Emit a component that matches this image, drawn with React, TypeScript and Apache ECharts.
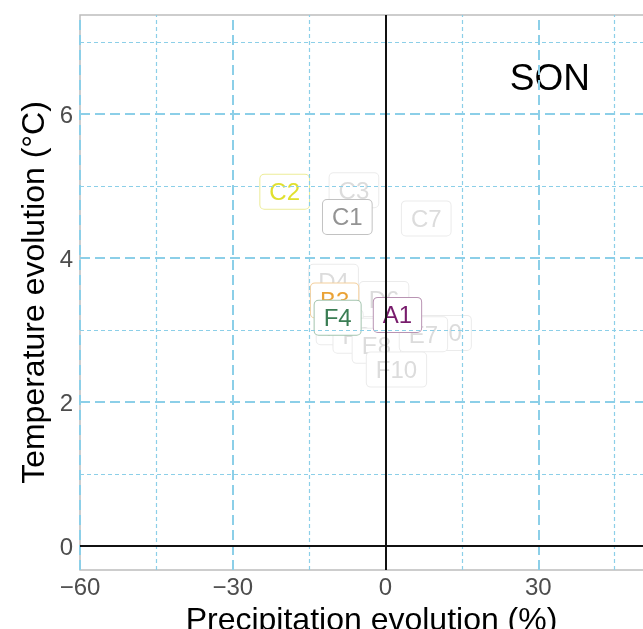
import React, { useEffect, useRef } from 'react';
import * as echarts from 'echarts';

// Precipitation (%) / temperature (°C) evolution per model, season SON
const labels = ['C3', 'C7', 'D4', 'D6', 'F5', 'F6', 'E10', 'E8', 'E7', 'F10', 'C1', 'C2', 'B3', 'F4', 'A1'];
const precipitation = [-6.2, 8.0, -10.2, -0.3, -9.0, -5.7, 10.8, -1.8, 7.45, 2.15, -7.5, -19.8, -10.0, -9.4, 2.35];
const temperature = [4.94, 4.55, 3.67, 3.43, 3.04, 2.92, 2.96, 2.78, 2.94, 2.45, 4.57, 4.92, 3.41, 3.17, 3.21];

const precipTicks = [-60, -30, 0, 30];
const tempTicks = [0, 2, 4, 6];
const precipMajorGrid = [-60, -30, 0, 30];
const precipMinorGrid = [-45, -15, 15, 45];
const tempMajorGrid = [0, 2, 4, 6];
const tempMinorGrid = [1, 3, 5, 7];

const seasonLabel = 'SON';
const seasonPos = [32.3, 6.51];

const FONT = '"Liberation Sans", Arial, Helvetica, sans-serif';

const faded = { text: '#dcdcdc', border: '#ebebeb' };
const labelColors: Record<string, { text: string; border: string }> = {
  C1: { text: '#939393', border: '#c2c2c2' },
  C2: { text: '#e0e02e', border: '#ecec98' },
  B3: { text: '#eaa235', border: '#f3cf9c' },
  F4: { text: '#3a7d54', border: '#a3c4ae' },
  A1: { text: '#781c6c', border: '#b994b3' },
};

export default function App() {
  const ref = useRef<HTMLDivElement>(null);
  useEffect(() => {
    const chart = echarts.init(ref.current!, null, { renderer: 'svg' });
    const gridBlue = '#8ccfe8';
    const gridLines = [
      ...precipMajorGrid.map((v) => ({ xAxis: v, lineStyle: { color: gridBlue, width: 2, type: [10, 5] } })),
      ...precipMinorGrid.map((v) => ({ xAxis: v, lineStyle: { color: gridBlue, width: 1.2, type: [4, 3] } })),
      ...tempMajorGrid.map((v) => ({ yAxis: v, lineStyle: { color: gridBlue, width: 2, type: [10, 5] } })),
      ...tempMinorGrid.map((v) => ({ yAxis: v, lineStyle: { color: gridBlue, width: 1.2, type: [4, 3] } })),
    ];
    const fmt = (v: number) => (v < 0 ? '\u2212' + Math.abs(v) : String(v));
    const option: any = {
      animation: false,
      textStyle: { fontFamily: FONT },
      grid: {
        left: 80,
        right: -20,
        top: 15,
        bottom: 59,
        containLabel: false,
        outerBoundsMode: 'none',
        show: true,
        borderColor: '#bdbdbd',
        borderWidth: 1.5,
        backgroundColor: 'transparent',
      },
      xAxis: {
        type: 'value',
        min: -60,
        max: 54.5,
        axisLine: { show: false },
        splitLine: { show: false },
        axisTick: { show: true, customValues: precipTicks, length: 4, lineStyle: { color: '#333', width: 1.5 } },
        axisLabel: {
          customValues: precipTicks,
          margin: 4,
          fontSize: 24,
          color: '#4d4d4d',
          fontFamily: FONT,
          formatter: fmt,
        },
        name: 'Precipitation evolution (%)',
        nameLocation: 'middle',
        nameGap: 29,
        nameTextStyle: { fontSize: 32, color: '#000', fontFamily: FONT },
      },
      yAxis: {
        type: 'value',
        min: -0.333,
        max: 7.375,
        axisLine: { show: false },
        splitLine: { show: false },
        axisTick: { show: true, customValues: tempTicks, length: 5, lineStyle: { color: '#333', width: 1.5 } },
        axisLabel: {
          customValues: tempTicks,
          margin: 7,
          fontSize: 24,
          color: '#4d4d4d',
          fontFamily: FONT,
          formatter: fmt,
        },
        name: 'Temperature evolution (°C)',
        nameLocation: 'middle',
        nameGap: 21,
        nameTextStyle: { fontSize: 32, color: '#000', fontFamily: FONT },
      },
      series: [
        {
          type: 'line',
          data: [],
          z: 1,
          silent: true,
          markLine: { symbol: 'none', silent: true, label: { show: false }, data: gridLines },
        },
        {
          type: 'line',
          data: [],
          z: 2,
          silent: true,
          markLine: {
            symbol: 'none',
            silent: true,
            label: { show: false },
            lineStyle: { color: '#111', width: 2, type: 'solid' },
            data: [{ xAxis: 0 }, { yAxis: 0 }],
          },
        },
        {
          type: 'scatter',
          z: 3,
          symbolSize: 1,
          itemStyle: { color: 'rgba(0,0,0,0)', opacity: 1 },
          data: labels.map((name, i) => {
            const c = labelColors[name] || faded;
            return {
              name,
              value: [precipitation[i], temperature[i]],
              label: { color: c.text, borderColor: c.border },
            };
          }),
          label: {
            show: true,
            position: 'inside',
            formatter: '{b}',
            fontSize: 24,
            fontFamily: FONT,
            textBorderWidth: 0,
            backgroundColor: '#ffffff',
            borderWidth: 1,
            borderRadius: 4,
            padding: [5, 9, 4, 9],
            lineHeight: 25,
          },
          labelLayout: { hideOverlap: false },
        },
        {
          type: 'scatter',
          z: 4,
          symbolSize: 1,
          itemStyle: { color: 'rgba(0,0,0,0)', opacity: 1 },
          data: [{ name: seasonLabel, value: seasonPos }],
          label: {
            show: true,
            position: 'inside',
            formatter: '{b}',
            fontSize: 37,
            color: '#000000',
            textBorderWidth: 0,
            fontFamily: FONT,
          },
        },
      ],
    };
    chart.setOption(option);
    return () => chart.dispose();
  }, []);
  return <div ref={ref} style={{ position: 'fixed', left: 0, top: 0, width: 643, height: 629 }} />;
}
